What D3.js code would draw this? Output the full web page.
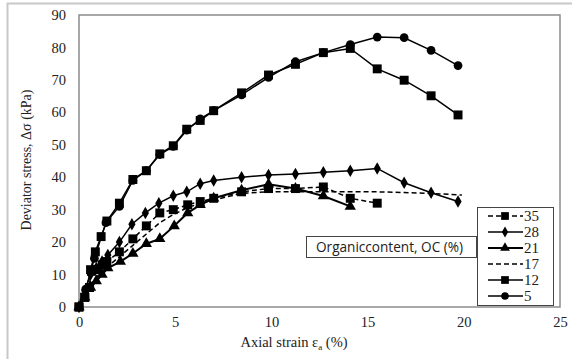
<!DOCTYPE html>
<html>
<head>
<meta charset="utf-8">
<script src="https://cdn.jsdelivr.net/npm/d3@7"></script>
<style>
  body { margin: 0; background: #fff; }
  svg { display: block; }
</style>
</head>
<body>
<svg width="572" height="359"></svg>
<script>
const svg = d3.select("svg");

// data: [axial strain %, deviator stress kPa]
const oc35 = [[0,0],[0.3,3],[0.55,6],[0.65,11],[0.95,11.5],[1.2,13],[1.45,14],[2.1,17],[2.8,21],[3.5,25],[4.2,29],[4.9,30],[5.65,31.5],[6.3,32.5],[7.0,33.5],[8.45,35.5],[9.85,36.5],[11.25,36.5],[12.7,37],[14.1,33.5],[15.5,32]];
const oc28 = [[0,0],[0.3,5],[0.6,10],[0.9,12],[1.2,14],[1.5,16],[2.1,20],[2.75,25.5],[3.45,29],[4.15,32],[4.9,34.3],[5.6,35.5],[6.3,38],[7.0,39],[8.45,40],[9.85,40.7],[11.25,41],[12.7,41.5],[14.1,42],[15.5,42.7],[16.9,38.3],[18.3,35.2],[19.7,32.5]];
const oc21 = [[0,0],[0.3,3],[0.6,6],[0.9,8],[1.2,10],[1.5,12],[2.15,14],[2.8,16.5],[3.5,19.5],[4.2,21],[4.95,25],[5.65,29],[6.3,31.5],[7.0,33.5],[8.45,36],[9.85,37.8],[11.25,36.5],[12.7,34.2],[14.1,31]];
const oc17 = [[0,0],[0.3,4],[0.6,7],[1,10],[1.5,12.5],[2.1,15.5],[2.8,19],[3.5,22.5],[4.2,26],[4.9,28.5],[5.6,30.5],[6.3,32],[7.0,33],[8.45,35],[9.85,35.5],[11.25,35.5],[12.7,35.5],[14.1,35.5],[15.5,35.5],[16.9,35.3],[18.3,35],[19.9,34.5]];
const oc12 = [[0,0],[0.3,3],[0.55,6],[0.6,11.5],[0.85,17],[1.15,21.7],[1.45,26.5],[2.1,32],[2.8,39.3],[3.5,42],[4.2,47.2],[4.9,49.7],[5.6,54.8],[6.3,57.5],[7.0,60.5],[8.45,66],[9.85,71.5],[11.25,74.8],[12.7,78.4],[14.1,79.7],[15.5,73.4],[16.9,69.9],[18.3,65.1],[19.7,59.2]];
const oc5 = [[0,0],[0.35,5.5],[0.8,15],[1.4,26],[2.1,31],[2.8,39],[3.5,42],[4.2,47],[4.9,49.5],[5.6,54.5],[6.3,58],[7.0,60.5],[8.45,65.4],[9.85,70.8],[11.25,75.6],[12.7,78.4],[14.1,80.9],[15.5,83.2],[16.9,83.0],[18.3,79.1],[19.7,74.4]];

const seriesNames = ["35", "28", "21", "17", "12", "5"];
const seriesData = [oc35, oc28, oc21, oc17, oc12, oc5];
const xTicks = [0, 5, 10, 15, 20, 25];
const yTicks = [0, 10, 20, 30, 40, 50, 60, 70, 80, 90];

// how each series is drawn
const styles = {
  "35": { dash: "5 3", marker: "square", width: 1.5 },
  "28": { dash: null, marker: "diamond", width: 1.5 },
  "21": { dash: null, marker: "triangle", width: 2 },
  "17": { dash: "5 3", marker: null, width: 1.5 },
  "12": { dash: null, marker: "square", width: 1.5 },
  "5":  { dash: null, marker: "circle", width: 1.5 }
};
const markerSize = { square: 80, diamond: 45, triangle: 55, circle: 60 };
const symbolType = {
  square: d3.symbolSquare, diamond: d3.symbolDiamond,
  triangle: d3.symbolTriangle, circle: d3.symbolCircle
};

const serif = "'Liberation Serif', 'Times New Roman', serif";
const plotL = 79, plotR = 560, plotT = 15, plotB = 307;

const x = d3.scaleLinear().domain([0, 25]).range([plotL, plotR]);
const y = d3.scaleLinear().domain([0, 90]).range([plotB, plotT]);

// outer chart frame
svg.append("rect")
  .attr("x", 7.5).attr("y", 3.5)
  .attr("width", 600).attr("height", 400)
  .attr("fill", "none").attr("stroke", "#c8c8c8").attr("stroke-width", 2);

// plot frame
svg.append("rect")
  .attr("x", plotL).attr("y", plotT)
  .attr("width", plotR - plotL).attr("height", plotB - plotT)
  .attr("fill", "none").attr("stroke", "#8c8c8c").attr("stroke-width", 1.5);

// axes (labels only, no tick marks)
const xAxis = svg.append("g")
  .attr("transform", `translate(0,${plotB})`)
  .call(d3.axisBottom(x).tickValues(xTicks).tickSize(0).tickPadding(10));
const yAxis = svg.append("g")
  .attr("transform", `translate(${plotL},0)`)
  .call(d3.axisLeft(y).tickValues(yTicks).tickSize(0).tickPadding(13));
[xAxis, yAxis].forEach(g => {
  g.select(".domain").remove();
  g.selectAll("text")
    .attr("font-family", serif)
    .attr("font-size", 14.5)
    .attr("fill", "#222");
});

// axis titles
const xTitle = svg.append("text")
  .attr("x", 294).attr("y", 347)
  .attr("text-anchor", "middle")
  .attr("font-family", serif).attr("font-size", 14.5).attr("fill", "#222");
xTitle.append("tspan").text("Axial strain ε");
xTitle.append("tspan").attr("font-size", 9).attr("dy", 3).text("a");
xTitle.append("tspan").attr("dy", -3).text(" (%)");

svg.append("text")
  .attr("transform", "translate(31,160) rotate(-90)")
  .attr("text-anchor", "middle")
  .attr("font-family", serif).attr("font-size", 14).attr("fill", "#222")
  .text("Deviator stress, Δσ (kPa)");

// series lines and markers
const line = d3.line().x(d => x(d[0])).y(d => y(d[1]));

seriesNames.forEach((name, i) => {
  const st = styles[name];
  const data = seriesData[i];
  svg.append("path")
    .datum(data)
    .attr("d", line)
    .attr("fill", "none")
    .attr("stroke", "#000")
    .attr("stroke-width", st.width)
    .attr("stroke-dasharray", st.dash);
  if (st.marker) {
    const sym = d3.symbol().type(symbolType[st.marker]).size(markerSize[st.marker]);
    svg.append("g").selectAll("path")
      .data(data)
      .join("path")
      .attr("transform", d => `translate(${x(d[0])},${y(d[1])})`)
      .attr("d", sym)
      .attr("fill", "#000");
  }
});

// caption box
svg.append("rect")
  .attr("x", 306.5).attr("y", 236.5)
  .attr("width", 170).attr("height", 21)
  .attr("fill", "#fff").attr("stroke", "#444").attr("stroke-width", 1);
svg.append("text")
  .attr("x", 316).attr("y", 252)
  .attr("font-family", "'Open Sans', 'Liberation Sans', sans-serif")
  .attr("font-size", 13.6).attr("fill", "#222")
  .text("Organiccontent, OC (%)");

// legend
const legend = svg.append("g");
legend.append("rect")
  .attr("x", 477.5).attr("y", 207.5)
  .attr("width", 76).attr("height", 98)
  .attr("fill", "#fff").attr("stroke", "#444").attr("stroke-width", 1);

seriesNames.forEach((name, i) => {
  const st = styles[name];
  const ly = 216 + i * 16;
  legend.append("line")
    .attr("x1", 488).attr("x2", 523)
    .attr("y1", ly).attr("y2", ly)
    .attr("stroke", "#000")
    .attr("stroke-width", st.width)
    .attr("stroke-dasharray", st.dash);
  if (st.marker) {
    legend.append("path")
      .attr("transform", `translate(505,${ly})`)
      .attr("d", d3.symbol().type(symbolType[st.marker]).size(markerSize[st.marker] * 0.75))
      .attr("fill", "#000");
  }
  legend.append("text")
    .attr("x", 524).attr("y", ly + 5)
    .attr("font-family", serif).attr("font-size", 15).attr("fill", "#222")
    .text(name);
});
</script>
</body>
</html>
